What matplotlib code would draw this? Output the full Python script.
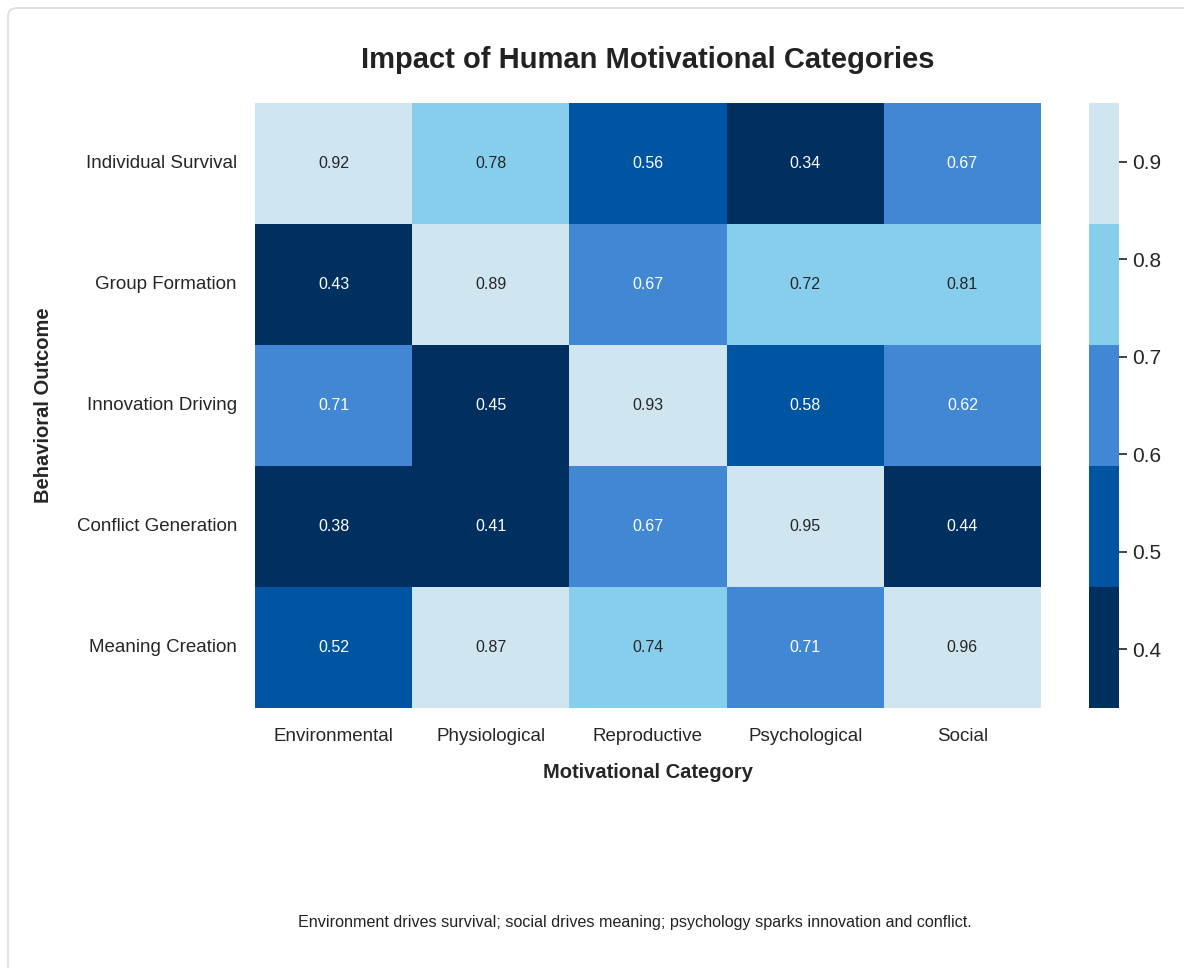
import numpy as np
import matplotlib
matplotlib.use('Agg')
import matplotlib.pyplot as plt
import seaborn as sns
from matplotlib.colors import ListedColormap
from matplotlib.patches import FancyBboxPatch

# dados
categorias = ['Environmental', 'Physiological', 'Reproductive', 'Psychological', 'Social']
resultados = ['Individual Survival', 'Group Formation', 'Innovation Driving',
              'Conflict Generation', 'Meaning Creation']
valores = np.array([
    [0.92, 0.78, 0.56, 0.34, 0.67],
    [0.43, 0.89, 0.67, 0.72, 0.81],
    [0.71, 0.45, 0.93, 0.58, 0.62],
    [0.38, 0.41, 0.67, 0.95, 0.44],
    [0.52, 0.87, 0.74, 0.71, 0.96],
])
cores = ['#00305f', '#0055a2', '#4287d4', '#87ceed', '#cfe5f0']

sns.set_theme(style='white')
plt.rcParams['font.family'] = ['Liberation Sans', 'DejaVu Sans']

fig = plt.figure(figsize=(11.84, 9.68), dpi=100)

# cartao de fundo
card = FancyBboxPatch((8 / 1184, -0.05), 1.2, (968 - 8) / 968 + 0.05,
                      boxstyle='round,pad=0,rounding_size=0.008',
                      transform=fig.transFigure, facecolor='white',
                      edgecolor='#dddddd', linewidth=1.2, zorder=-1)
fig.patches.append(card)

ax = fig.add_axes([255 / 1184, 1 - 708 / 968, (1041 - 255) / 1184, (708 - 103) / 968])
cax = fig.add_axes([1089 / 1184, 1 - 708 / 968, 30 / 1184, (708 - 103) / 968])

sns.heatmap(valores, ax=ax, cbar_ax=cax, cmap=ListedColormap(cores),
            annot=True, fmt='.2f', annot_kws={'size': 11.5},
            xticklabels=categorias, yticklabels=resultados)

ax.set_title('Impact of Human Motivational Categories', fontsize=21,
             fontweight='bold', pad=25, color='#222222')
ax.set_xlabel('Motivational Category', fontsize=14.5, fontweight='bold', labelpad=13)
ax.set_ylabel('Behavioral Outcome', fontsize=14.5, fontweight='bold', labelpad=17)
ax.tick_params(axis='both', labelsize=13.5, length=0)
ax.tick_params(axis='y', rotation=0, pad=13)
ax.tick_params(axis='x', rotation=0, pad=14.5)

cax.tick_params(labelsize=15, length=6, width=1.2, color='#222222')
cax.set_yticks([0.4, 0.5, 0.6, 0.7, 0.8, 0.9])
for s in cax.spines.values():
    s.set_visible(False)

fig.text(635 / 1184, 1 - 922 / 968,
         'Environment drives survival; social drives meaning; psychology sparks innovation and conflict.',
         ha='center', va='center', fontsize=11.6, color='#222222')

fig.savefig('out.png', dpi=100)
